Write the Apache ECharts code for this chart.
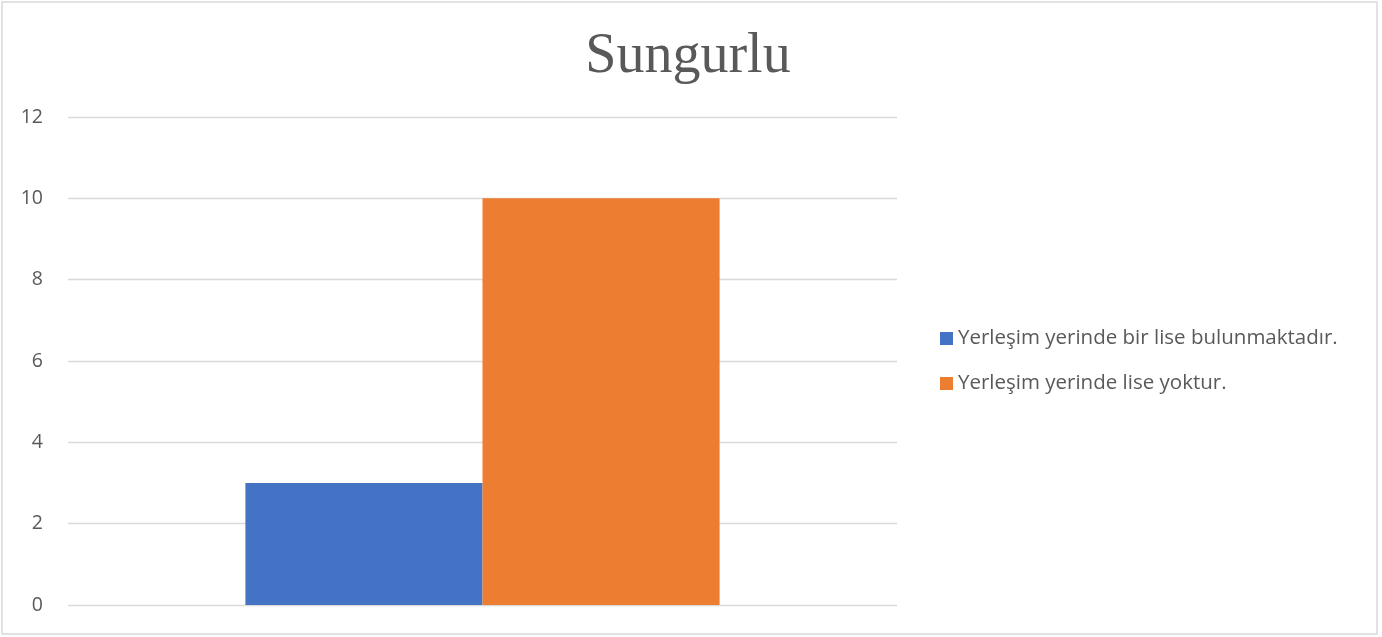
<!DOCTYPE html>
<html><head><meta charset="utf-8">
<script src="https://cdn.jsdelivr.net/npm/echarts@6/dist/echarts.min.js"></script>
<style>html,body{margin:0;padding:0;background:#fff}#c{width:1382px;height:637px}</style>
</head><body><div id="c"></div>
<script>
const categories = ['Sungurlu'];
const seriesNames = ['Yerleşim yerinde bir lise bulunmaktadır.', 'Yerleşim yerinde lise yoktur.'];
const seriesValues = [[3], [10]];
const colors = ['#4472C4', '#ED7D31'];
const chart = echarts.init(document.getElementById('c'));
chart.setOption({
  animation: false,
  backgroundColor: '#fff',
  graphic: [{type:'rect', shape:{x:2,y:2,width:1375,height:632}, style:{fill:'none', stroke:'#d9d9d9', lineWidth:1.5}, silent:true}],
  title: {text: 'Sungurlu', left: 683, top: 24, textAlign: 'center',
    textStyle: {fontFamily: 'Liberation Serif', fontSize: 56, fontWeight: 'normal', color: '#595959'}},
  legend: {orient: 'vertical', left: 940, top: 328, padding: 0, itemWidth: 13, itemHeight: 13, itemGap: 24, icon: 'rect',
    textStyle: {fontFamily: 'Open Sans', fontSize: 20.5, color: '#595959'}},
  grid: {left: 68, right: 485, top: 117, bottom: 32},
  xAxis: {type: 'category', data: categories, axisLine: {show: false}, axisTick: {show: false}, axisLabel: {show: false}},
  yAxis: {type: 'value', min: 0, max: 12, interval: 2, axisLine: {show: false}, axisTick: {show: false},
    axisLabel: {fontFamily: 'Open Sans', fontSize: 19.5, color: '#595959', margin: 25},
    splitLine: {lineStyle: {color: '#d9d9d9', width: 1.3}}},
  series: seriesNames.map((n, i) => ({name: n, type: 'bar', data: seriesValues[i], barGap: '0%', barCategoryGap: '42.8%',
    itemStyle: {color: colors[i]}}))
});
</script></body></html>
